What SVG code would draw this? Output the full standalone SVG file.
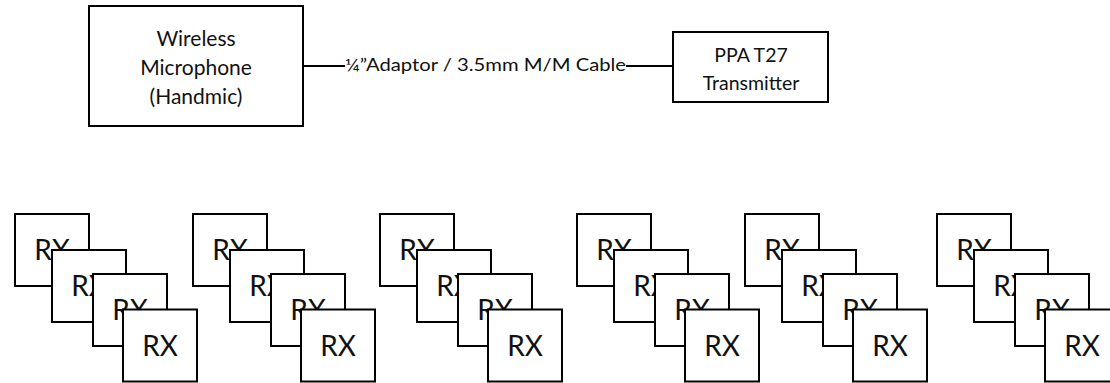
<svg xmlns="http://www.w3.org/2000/svg" width="1110" height="383" viewBox="0 0 1110 383">
<style>
.box{fill:#fff;stroke:#000;stroke-width:2}
.t{font-family:Lato,"Liberation Sans",sans-serif;fill:#111;text-anchor:middle}
.top{font-size:21px}
.tx{font-size:19.5px}
.rx{font-size:28px}
.lbl{font-size:17.5px}
.wire{stroke:#000;stroke-width:2;fill:none}
</style>
<defs>
<g id="rx"><rect class="box" x="0" y="0" width="74" height="72"/><text class="t rx" x="37" y="46">RX</text></g>
<g id="stack">
<use href="#rx" x="0" y="0"/>
<use href="#rx" x="37" y="36"/>
<use href="#rx" x="78" y="60"/>
<use href="#rx" x="108" y="95.5"/>
</g>
</defs>
<g id="connectors">
<line class="wire" x1="303" y1="66" x2="673" y2="66"/>
<rect x="345" y="55" width="281" height="22" fill="#fff"/>
<text class="t lbl" x="485.5" y="71" textLength="281" lengthAdjust="spacingAndGlyphs">¼”Adaptor / 3.5mm M/M Cable</text>
</g>
<g id="mic">
<rect class="box" x="89" y="6" width="214" height="120"/>
<text class="t top" x="196" y="46">Wireless</text>
<text class="t top" x="196" y="75">Microphone</text>
<text class="t top" x="196" y="104">(Handmic)</text>
</g>
<g id="tx">
<rect class="box" x="673" y="32" width="155" height="70"/>
<text class="t tx" x="751" y="62">PPA T27</text>
<text class="t tx" x="751" y="90">Transmitter</text>
</g>
<g id="rx1"><use href="#stack" x="15" y="214"/></g>
<g id="rx2"><use href="#stack" x="193" y="214"/></g>
<g id="rx3"><use href="#stack" x="380" y="214"/></g>
<g id="rx4"><use href="#stack" x="577" y="214"/></g>
<g id="rx5"><use href="#stack" x="745" y="214"/></g>
<g id="rx6"><use href="#stack" x="937" y="214"/></g>
</svg>
